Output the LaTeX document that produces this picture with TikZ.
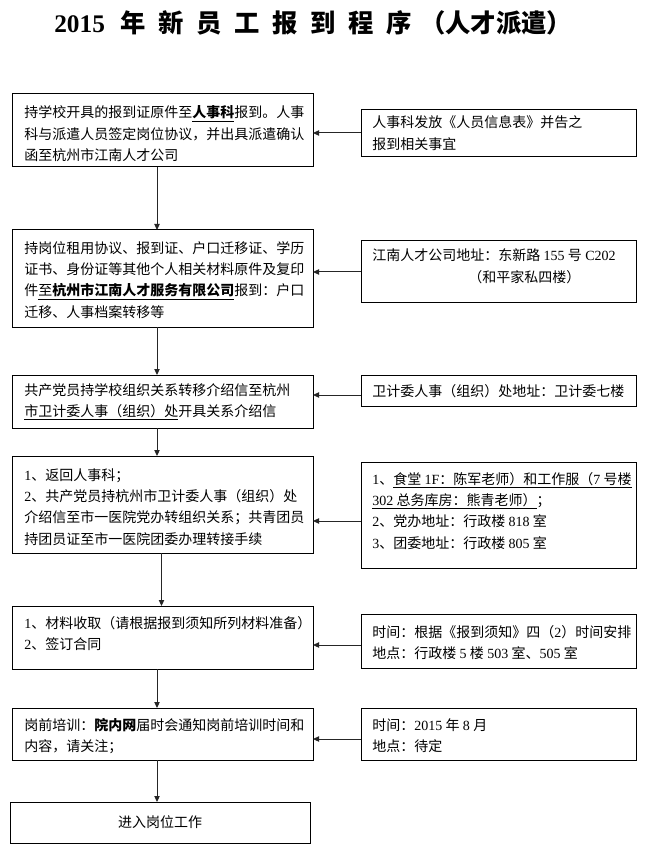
\documentclass[tikz,border=0pt]{standalone}
\usepackage{fontspec}
\setmainfont{Liberation Serif}
\newfontfamily\cjk{Noto Sans CJK SC}
\usetikzlibrary{arrows.meta}
\newcommand\tm[1]{{\rmfamily #1}}
\newcommand\tsp{\hspace{9.5pt}}
\newcommand\ds{\hspace{2.5pt}}
\def\px{0.75pt}
\begin{document}
\begin{tikzpicture}[x=0.75pt,y=-0.75pt,
  box/.style={draw=black, line width=0.75pt, anchor=north west, inner sep=0, outer sep=0},
  txt/.style={anchor=base west, inner sep=0, text width=270*\px, align=left,
    font=\cjk\fontsize{10.5pt}{16pt}\selectfont},
  arr/.style={draw=black!85, line width=0.75pt, -{Triangle[length=4.5pt,width=4pt]}}]
\fill[white] (0,0) rectangle (644,848);
\useasboundingbox (0,0) rectangle (644,848);

\node[anchor=west, inner sep=0, font=\cjk\bfseries\fontsize{19pt}{21pt}\selectfont] (title) at (54,23)
  {\tm{2015}\hspace{12pt}年\tsp 新\tsp 员\tsp 工\tsp 报\tsp 到\tsp 程\tsp 序\hspace{6pt}（人才派遣）};

% left column boxes
\node[box, minimum width=301*\px, minimum height=73*\px] (b1) at (12,94) {};
\node[box, minimum width=301*\px, minimum height=97*\px] (b2) at (12,230) {};
\node[box, minimum width=301*\px, minimum height=53*\px] (b3) at (12,375) {};
\node[box, minimum width=301*\px, minimum height=97*\px] (b4) at (12,456) {};
\node[box, minimum width=301*\px, minimum height=63*\px] (b5) at (12,606) {};
\node[box, minimum width=301*\px, minimum height=52*\px] (b6) at (12,708) {};
\node[box, minimum width=300*\px, minimum height=41*\px] (b7) at (10,802) {};

% right column boxes
\node[box, minimum width=275*\px, minimum height=47*\px] (r1) at (361,110) {};
\node[box, minimum width=275*\px, minimum height=61*\px] (r2) at (361,241) {};
\node[box, minimum width=275*\px, minimum height=31*\px] (r3) at (361,375) {};
\node[box, minimum width=275*\px, minimum height=106*\px] (r4) at (361,462) {};
\node[box, minimum width=275*\px, minimum height=54*\px] (r5) at (361,614) {};
\node[box, minimum width=275*\px, minimum height=52*\px] (r6) at (361,708) {};

% texts
\node[txt] (t1) at (24,118) {持学校开具的报到证原件至\textbf{\underline{人事科}}报到。人事\\
科与派遣人员签定岗位协议，并出具派遣确认\\
函至杭州市江南人才公司};
\node[txt] (s1) at (372,128) {人事科发放《人员信息表》并告之\\报到相关事宜};

\node[txt] (t2) at (24,253) {持岗位租用协议、报到证、户口迁移证、学历\\
证书、身份证等其他个人相关材料原件及复印\\
件\underline{至\textbf{杭州市江南人才服务有限公司}}报到：户口\\
迁移、人事档案转移等};
\node[txt] (s2) at (372,261) {江南人才公司地址：东新路\ds\tm{155}\ds 号\ds\tm{C202}\\
\hspace*{72pt}（和平家私四楼）};

\node[txt] (t3) at (24,395) {共产党员持学校组织关系转移介绍信至杭州\\
\underline{市卫计委人事（组织）处}开具关系介绍信};
\node[txt] (s3) at (372,396) {卫计委人事（组织）处地址：卫计委七楼};

\node[txt] (t4) at (24,480) {\tm{1}、返回人事科；\\
\tm{2}、共产党员持杭州市卫计委人事（组织）处\\
介绍信至市一医院党办转组织关系；共青团员\\
持团员证至市一医院团委办理转接手续};
\node[txt] (s4) at (372,484) {\tm{1}、\underline{食堂\ds\tm{1F}：陈军老师）和工作服（\tm{7}\ds 号楼}\\
\underline{\tm{302}\ds 总务库房：熊青老师）}；\\
\tm{2}、党办地址：行政楼\ds\tm{818}\ds 室\\
\tm{3}、团委地址：行政楼\ds\tm{805}\ds 室};

\node[txt] (t5) at (24,628) {\tm{1}、材料收取（请根据报到须知所列材料准备）\\
\tm{2}、签订合同};
\node[txt] (s5) at (372,637) {时间：根据《报到须知》四（\tm{2}）时间安排\\
地点：行政楼\ds\tm{5}\ds 楼\ds\tm{503}\ds 室、\tm{505}\ds 室};

\node[txt] (t6) at (24,730) {岗前培训：\textbf{院内网}届时会通知岗前培训时间和\\
内容，请关注；};
\node[txt] (s6) at (372,730) {时间：\tm{2015}\ds 年\ds\tm{8}\ds 月\\
地点：待定};

\node[inner sep=0, font=\cjk\fontsize{10.5pt}{16pt}\selectfont] (t7) at (b7.center) {进入岗位工作};

% vertical connectors
\draw[arr] ([xshift=-5.5*\px]b1.south) -- ([xshift=-5.5*\px]b1.south |- b2.north);
\draw[arr] ([xshift=-5.5*\px]b2.south) -- ([xshift=-5.5*\px]b2.south |- b3.north);
\draw[arr] ([xshift=-5.5*\px]b3.south) -- ([xshift=-5.5*\px]b3.south |- b4.north);
\draw[arr] ([xshift=-1*\px]b4.south) -- ([xshift=-1*\px]b4.south |- b5.north);
\draw[arr] ([xshift=-5.5*\px]b5.south) -- ([xshift=-5.5*\px]b5.south |- b6.north);
\draw[arr] ([xshift=-5.5*\px]b6.south) -- ([xshift=-5.5*\px]b6.south |- b7.north);

% horizontal connectors
\draw[arr] (r1.west |- 0,133) -- (b1.east |- 0,133);
\draw[arr] (r2.west |- 0,272) -- (b2.east |- 0,272);
\draw[arr] (r3.west |- 0,395) -- (b3.east |- 0,395);
\draw[arr] (r4.west |- 0,521) -- (b4.east |- 0,521);
\draw[arr] (r5.west |- 0,645) -- (b5.east |- 0,645);
\draw[arr] (r6.west |- 0,739) -- (b6.east |- 0,739);
\end{tikzpicture}
\end{document}
